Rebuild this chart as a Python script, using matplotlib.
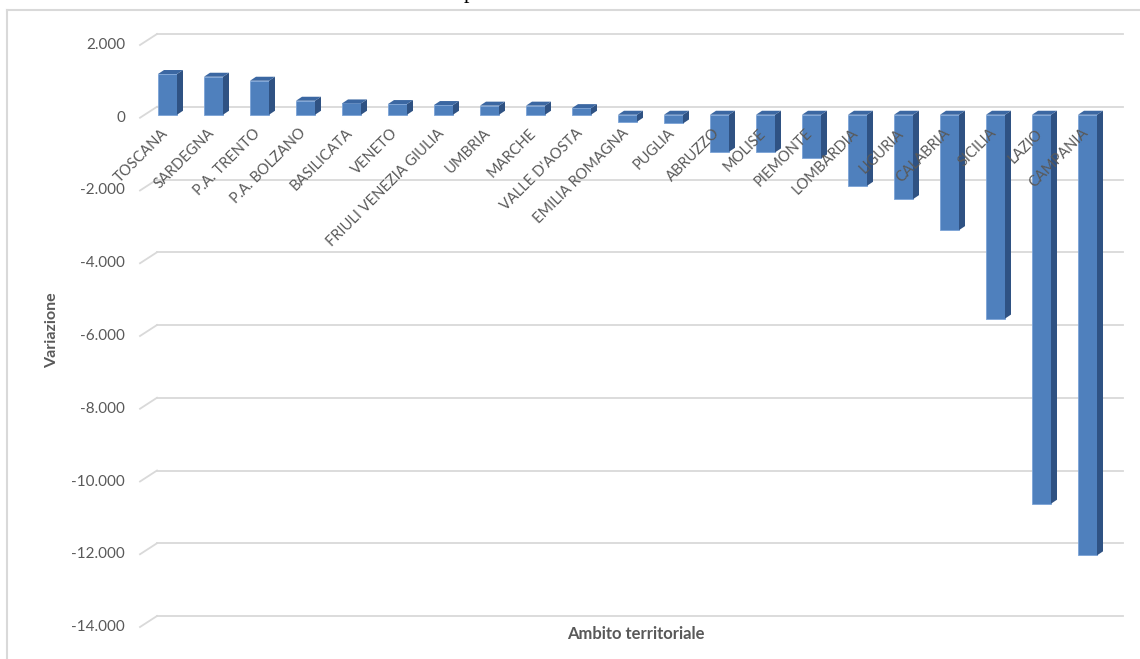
import matplotlib.pyplot as plt
from matplotlib.patches import Polygon, Rectangle
from matplotlib.lines import Line2D

# Dati (variazione per ambito territoriale)
regioni = ['TOSCANA', 'SARDEGNA', 'P.A. TRENTO', 'P.A. BOLZANO', 'BASILICATA', 'VENETO',
           'FRIULI VENEZIA GIULIA', 'UMBRIA', 'MARCHE', "VALLE D'AOSTA", 'EMILIA ROMAGNA',
           'PUGLIA', 'ABRUZZO', 'MOLISE', 'PIEMONTE', 'LOMBARDIA', 'LIGURIA', 'CALABRIA',
           'SICILIA', 'LAZIO', 'CAMPANIA']
variazioni = [1120, 1045, 935, 385, 311, 294, 267, 250, 250, 182, -193, -240,
              -1018, -1035, -1202, -1953, -2320, -3172, -5604, -10693, -12113]
tick_valori = [-14000, -12000, -10000, -8000, -6000, -4000, -2000, 0, 2000]
tick_etichette = ['-14.000', '-12.000', '-10.000', '-8.000', '-6.000', '-4.000',
                  '-2.000', '0', '2.000']

plt.rcParams['font.family'] = ['Lato', 'DejaVu Sans']
grigio_testo = '#595959'
grigio_griglia = '#D9D9D9'

W, H = 1140, 659
fig = plt.figure(figsize=(W / 100, H / 100), dpi=100)
ax = fig.add_axes([140 / W, 32 / H, 966 / W, 582 / H])
ax.set_xlim(-0.5, 20.5)
ax.set_ylim(-14000, 2000)
ax.axis('off')

# conversione pixel -> unità dati
px_x = 21 / 966
px_y = 16000 / 582

# parete di fondo (effetto 3D)
wx, wy = 17 * px_x, 11 * px_y
for v, et in zip(tick_valori, tick_etichette):
    ax.plot([-0.5, -0.5 + wx], [v, v + wy], color=grigio_griglia, lw=1.3, clip_on=False, zorder=1)
    ax.plot([-0.5 + wx, 20.5 + wx], [v + wy, v + wy], color=grigio_griglia, lw=1.3,
            clip_on=False, zorder=1)
    ax.text(-0.5 - 15 * px_x, v, et, ha='right', va='center', fontsize=11, color=grigio_testo)

# barre 3D
base = 3 * px_y
bx = 4.5 * px_x
w = 19 * px_x
dx, dy = 6 * px_x, 4 * px_y
for i, v in enumerate(variazioni):
    xl = i + bx - w / 2
    xr = xl + w
    y0, y1 = base, base + v
    ytop = max(y0, y1)
    ax.add_patch(Rectangle((xl, min(y0, y1)), w, abs(v), facecolor='#4F80BD',
                           edgecolor='#7BA3D6', lw=0.6, zorder=3, clip_on=False))
    ax.add_patch(Polygon([(xr, y0), (xr + dx, y0 + dy), (xr + dx, y1 + dy), (xr, y1)],
                         closed=True, facecolor='#2F5283', edgecolor='none', zorder=3,
                         clip_on=False))
    ax.add_patch(Polygon([(xl, ytop), (xr, ytop), (xr + dx, ytop + dy), (xl + dx, ytop + dy)],
                         closed=True, facecolor='#3B67A2', edgecolor='none', zorder=3,
                         clip_on=False))

# etichette delle categorie
for i, nome in enumerate(regioni):
    ax.text(i + 3 * px_x, -364, nome, rotation=45, ha='right', va='center',
            rotation_mode='anchor', fontsize=10.5, color=grigio_testo, zorder=5)

# titoli degli assi
fig.text(52 / W, 1 - 330 / H, 'Variazione', rotation=90, fontweight='bold', fontsize=11.5,
         ha='center', va='center', color=grigio_testo)
fig.text(636 / W, 1 - 634 / H, 'Ambito territoriale', fontweight='bold', fontsize=12,
         ha='center', va='center', color=grigio_testo)

# bordo dell'area del grafico
fig.add_artist(Line2D([7 / W, 7 / W], [0, 1 - 10 / H], transform=fig.transFigure,
                      color=grigio_griglia, lw=1.5))
fig.add_artist(Line2D([7 / W, 1], [1 - 10 / H, 1 - 10 / H], transform=fig.transFigure,
                      color=grigio_griglia, lw=1.5))

# frammento del titolo tagliato in alto
fig.text(469 / W, 1 + 2 / H, 'p', fontfamily='Liberation Serif', fontsize=16,
         ha='center', va='baseline', color='black')

fig.savefig('out.png', dpi=100)
